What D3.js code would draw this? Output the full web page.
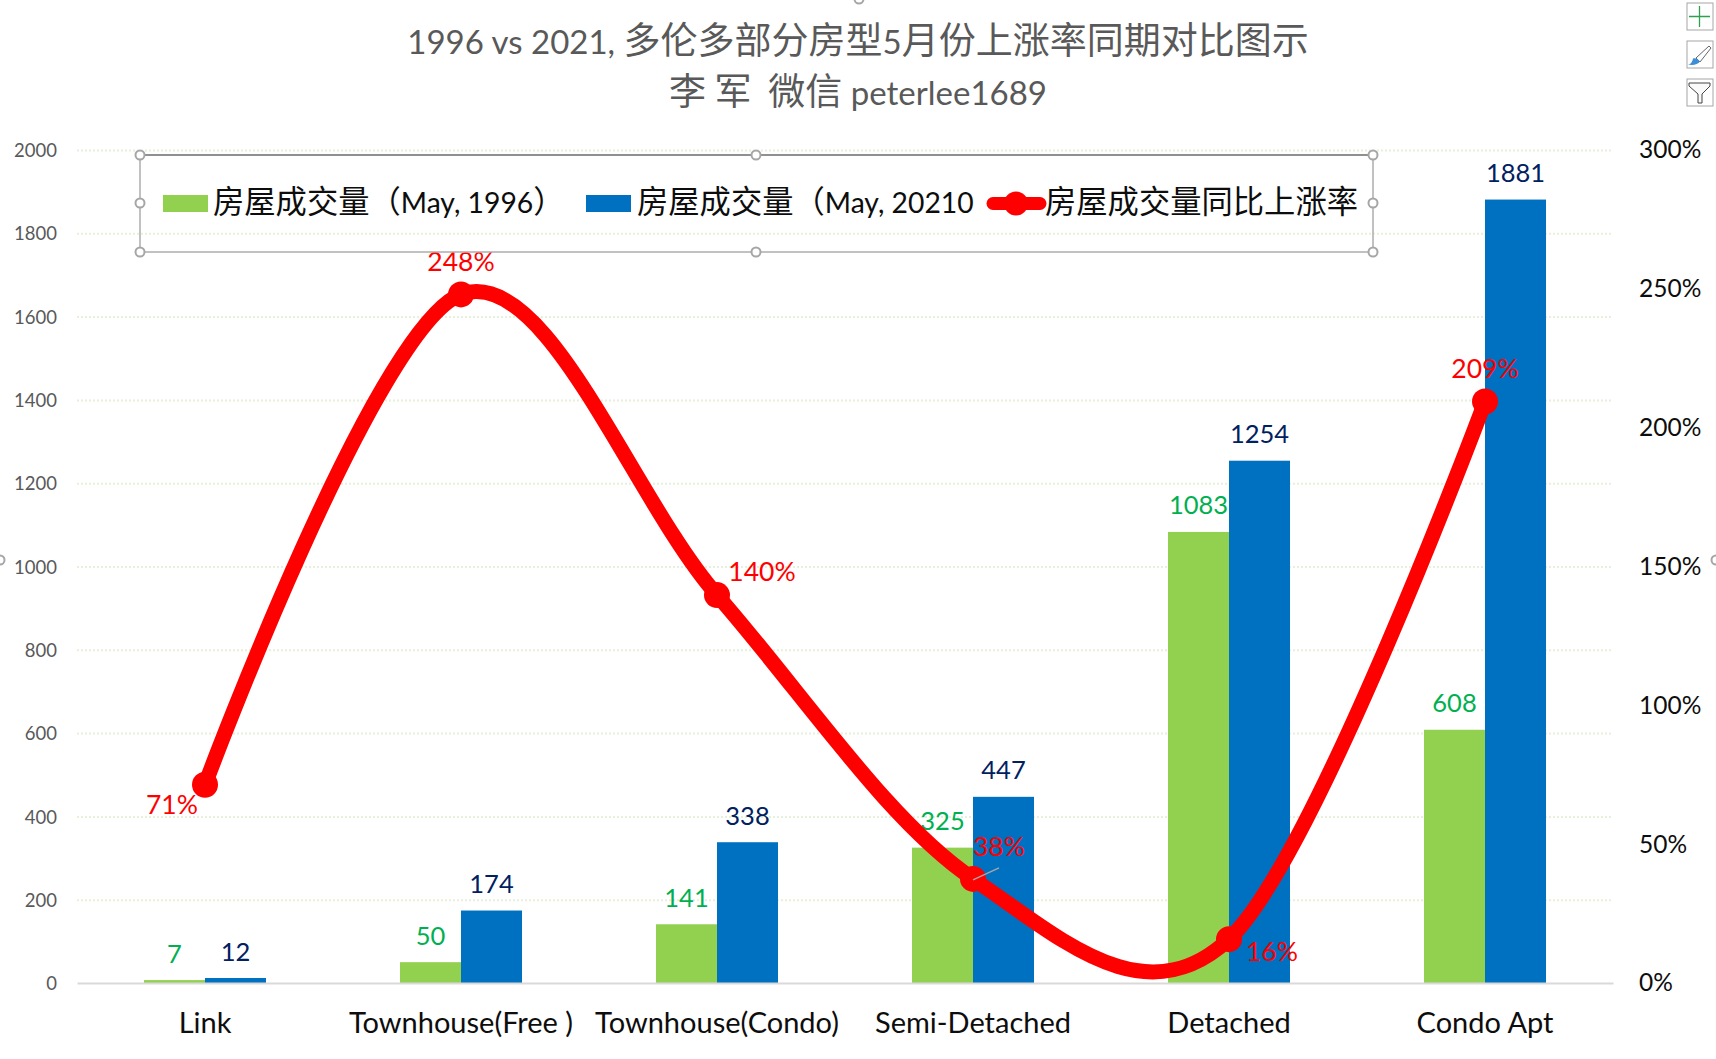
<!DOCTYPE html>
<html><head><meta charset="utf-8">
<script src="https://cdn.jsdelivr.net/npm/d3@7"></script>
<style>
html,body{margin:0;padding:0;background:#fff;overflow:hidden}
svg{display:block}
text{font-family:Lato,"Noto Sans CJK SC",sans-serif;white-space:pre}
</style></head><body>
<svg id="c" width="1716" height="1059"></svg>
<script>
const categories=["Link","Townhouse(Free )","Townhouse(Condo)","Semi-Detached","Detached","Condo Apt"];
const sales1996=[7,50,141,325,1083,608];
const sales2021=[12,174,338,447,1254,1881];
const growth=[0.714,2.48,1.397,0.375,0.158,2.094];
const growthLabels=["71%","248%","140%","38%","16%","209%"];
const leftTicks=[0,200,400,600,800,1000,1200,1400,1600,1800,2000];
const rightTicks=[0,0.5,1,1.5,2,2.5,3];
const titleLines=["1996 vs 2021, 多伦多部分房型5月份上涨率同期对比图示","李 军  微信 peterlee1689"];
const legendLabels=["房屋成交量（May, 1996）","房屋成交量（May, 20210","房屋成交量同比上涨率"];

const svg=d3.select("#c");
const L=77,R=1613,T=150,B=983;
const x=d3.scaleBand().domain(categories).range([L,R]);
const y=d3.scaleLinear().domain([0,2000]).range([B,T]);
const y2=d3.scaleLinear().domain([0,3]).range([B,T]);
const barW=61;
const cx=c=>x(c)+x.bandwidth()/2;
// mixed-script text: CJK and Latin runs take different sizes, as in the original's fonts
function runs(sel,cjkSize,latinSize){
  sel.selectAll("tspan").data(d=>d.match(/[\x00-\x7f]+|[^\x00-\x7f]+/g)).join("tspan")
   .attr("font-size",d=>/^[\x00-\x7f]/.test(d)?latinSize:cjkSize).text(d=>d);
}

// grid + left axis
const gl=svg.append("g").attr("transform",`translate(${L},0)`)
 .call(d3.axisLeft(y).tickValues(leftTicks).tickSize(-(R-L)).tickPadding(20).tickFormat(d3.format("d")));
gl.select(".domain").remove();
gl.selectAll(".tick line").attr("stroke","#e6f0da").attr("stroke-width",2).attr("stroke-dasharray","2 2");
gl.selectAll(".tick text").attr("font-size",18.5).attr("fill","#595959").attr("dy","0.36em").style("font-family","Lato");
gl.selectAll(".tick").filter(d=>d===0).select("line").remove();

// bars
svg.append("g").selectAll("rect").data(categories).join("rect")
 .attr("x",c=>cx(c)-barW).attr("width",barW)
 .attr("y",(c,i)=>y(sales1996[i])).attr("height",(c,i)=>B-y(sales1996[i])).attr("fill","#92d050");
svg.append("g").selectAll("rect").data(categories).join("rect")
 .attr("x",c=>cx(c)).attr("width",barW)
 .attr("y",(c,i)=>y(sales2021[i])).attr("height",(c,i)=>B-y(sales2021[i])).attr("fill","#0070c0");

// bottom axis
const gb=svg.append("g").attr("transform",`translate(0,${B})`)
 .call(d3.axisBottom(x).tickSize(0).tickPadding(29));
gb.select(".domain").attr("stroke","#d9d9d9").attr("stroke-width",2);
gb.selectAll(".tick text").attr("font-size",29).attr("fill","#0d0d0d").style("font-family","Lato");

// right axis
const gr=svg.append("g").attr("transform",`translate(1639,0)`)
 .call(d3.axisRight(y2).tickValues(rightTicks).tickSize(0).tickPadding(0).tickFormat(d3.format(".0%")));
gr.select(".domain").remove();
gr.selectAll(".tick text").attr("font-size",24.5).attr("fill","#0d0d0d").style("font-family","Lato");

// bar labels
svg.append("g").selectAll("text").data(categories).join("text")
 .attr("x",c=>cx(c)-barW/2).attr("y",(c,i)=>y(sales1996[i])-17.5).attr("text-anchor","middle")
 .attr("font-size",25.5).attr("fill","#00b050").text((c,i)=>sales1996[i]);
svg.append("g").selectAll("text").data(categories).join("text")
 .attr("x",c=>cx(c)+barW/2).attr("y",(c,i)=>y(sales2021[i])-17.5).attr("text-anchor","middle")
 .attr("font-size",25.5).attr("fill","#002060").text((c,i)=>sales2021[i]);

// line
const line=d3.line().x(d=>cx(d.c)).y(d=>y2(d.v)).curve(d3.curveCatmullRom.alpha(0));
const pts=categories.map((c,i)=>({c,v:growth[i]}));
svg.append("path").datum(pts).attr("d",line).attr("fill","none").attr("stroke","#ff0000").attr("stroke-width",15).attr("stroke-linecap","round");
svg.append("g").selectAll("circle").data(pts).join("circle")
 .attr("cx",d=>cx(d.c)).attr("cy",d=>y2(d.v)).attr("r",13).attr("fill","#ff0000");

// leader line
svg.append("line").attr("x1",cx(categories[3])).attr("y1",y2(growth[3])+1).attr("x2",cx(categories[3])+26).attr("y2",y2(growth[3])-11)
 .attr("stroke","#a6a6a6").attr("stroke-width",1.5);

// growth labels, placement offsets from the point
const labelOffsets=[[-33,29],[0,-23],[45,-14],[26,-23],[43,22],[0,-24]];
svg.append("g").selectAll("text").data(pts).join("text")
 .attr("x",(d,i)=>cx(d.c)+labelOffsets[i][0]).attr("y",(d,i)=>y2(d.v)+labelOffsets[i][1]).attr("text-anchor","middle")
 .attr("font-size",26.5).attr("fill","#ff0000").text((d,i)=>growthLabels[i]);

// title
svg.append("g").selectAll("text").data(titleLines).join("text")
 .attr("x",858).attr("y",(d,i)=>54+i*51).attr("text-anchor","middle")
 .attr("fill","#595959").call(runs,37,33);

// legend frame
const lg=svg.append("g");
lg.append("rect").attr("x",140).attr("y",155).attr("width",1233).attr("height",97).attr("fill","none").attr("stroke","#adadad").attr("stroke-width",1.5);
lg.append("line").attr("x1",140).attr("x2",1373).attr("y1",155).attr("y2",155).attr("stroke","#7f7f7f").attr("stroke-width",1.5);
const handles=[[140,155],[756,155],[1373,155],[140,203],[1373,203],[140,252],[756,252],[1373,252]];
lg.selectAll("circle").data(handles).join("circle").attr("cx",d=>d[0]).attr("cy",d=>d[1]).attr("r",4.5)
 .attr("fill","#fff").attr("stroke","#a6a6a6").attr("stroke-width",2);
lg.append("rect").attr("x",163).attr("y",195).attr("width",45).attr("height",17).attr("fill","#92d050");
lg.append("rect").attr("x",586).attr("y",195).attr("width",45).attr("height",17).attr("fill","#0070c0");
lg.append("line").attr("x1",993).attr("x2",1040).attr("y1",203.5).attr("y2",203.5).attr("stroke","#ff0000").attr("stroke-width",13).attr("stroke-linecap","round");
lg.append("circle").attr("cx",1016).attr("cy",203.5).attr("r",12).attr("fill","#ff0000");
const legendX=[213,637,1045];
lg.selectAll("text").data(legendLabels).join("text").attr("x",(d,i)=>legendX[i]).attr("y",213)
 .attr("fill","#0d0d0d").call(runs,31.3,28.3);

// chart-selection chrome
const ch=svg.append("g");
[[859,-1],[0,560],[1716,560]].forEach(p=>ch.append("circle").attr("cx",p[0]).attr("cy",p[1]).attr("r",4.5).attr("fill","#fff").attr("stroke","#a6a6a6").attr("stroke-width",2));
[3,41,79].forEach(yy=>ch.append("rect").attr("x",1687).attr("y",yy).attr("width",26).attr("height",27).attr("fill","#fff").attr("stroke","#a6a6a6").attr("stroke-width",1));
ch.append("path").attr("d","M1699.5 6V27M1689 16.5H1710").attr("stroke","#2ea14f").attr("stroke-width",1.3).attr("fill","none");
ch.append("path").attr("d","M1696 58L1709 46L1711 48L1700 62Z").attr("fill","#fff").attr("stroke","#666").attr("stroke-width",1);
ch.append("path").attr("d","M1688 64.5c3-.5 4-2 5-6c2-1 5 0 7 3c-2 3-7 4-12 3z").attr("fill","#3c8fd6");
ch.append("path").attr("d","M1689 83H1710V86L1702 94V103H1698V94L1689 86Z").attr("fill","#fafafa").attr("stroke","#444").attr("stroke-width",1);
</script></body></html>
